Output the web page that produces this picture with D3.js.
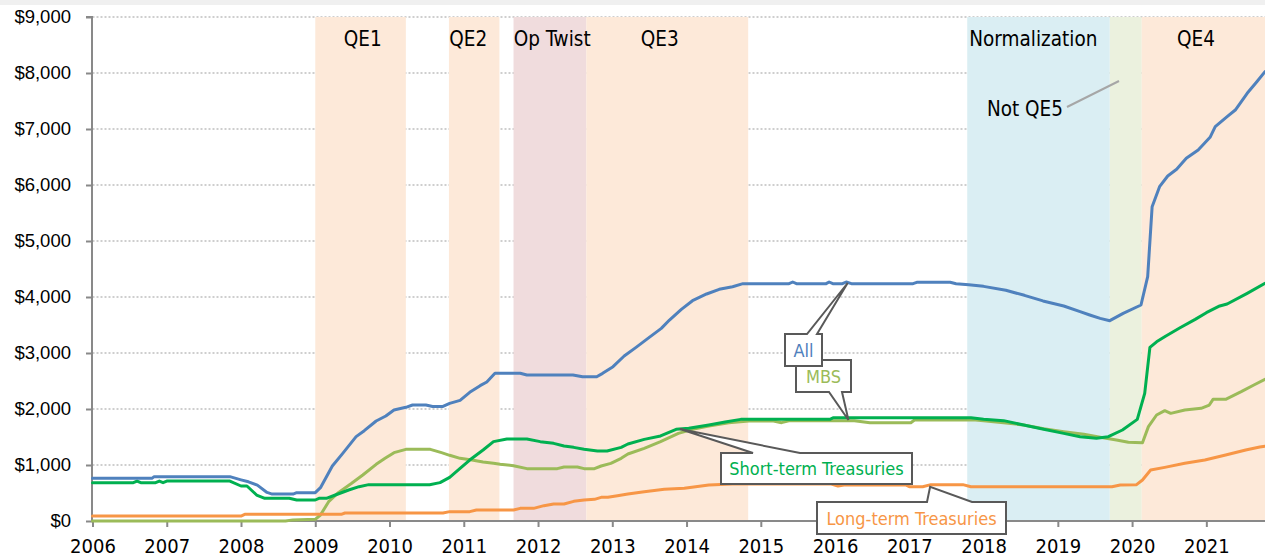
<!DOCTYPE html>
<html><head><meta charset="utf-8">
<script src="https://cdn.jsdelivr.net/npm/d3@7"></script>
<style>html,body{margin:0;padding:0;background:#fff;overflow:hidden} svg{display:block}</style>
</head><body><svg id="c" width="1265" height="559"></svg>
<script>
// ---------- DATA ----------
const xTickYears = d3.range(2006, 2022);
const yTickValues = [0,1000,2000,3000,4000,5000,6000,7000,8000,9000];

const bandNames  = ["QE1","QE2","Op Twist","QE3","Normalization","Not QE5","QE4"];
const bandStarts = [2009.0, 2010.80, 2011.67, 2012.65, 2017.78, 2019.70, 2020.13];
const bandEnds   = [2010.22, 2011.48, 2012.65, 2014.83, 2019.70, 2020.13, 2021.79];
const bandLabelYears = [2009.64, 2011.06, 2012.19, 2013.64, 2018.67, null, 2020.86];

const allYears = [2006.0,2006.8,2006.83,2007.85,2008.0,2008.1,2008.22,2008.35,2008.42,2008.7,2008.75,2009.0,2009.07,2009.23,2009.37,2009.55,2009.66,2009.82,2009.95,2010.06,2010.22,2010.31,2010.49,2010.58,2010.72,2010.81,2010.95,2011.08,2011.22,2011.31,2011.42,2011.76,2011.85,2012.47,2012.60,2012.79,2012.87,2013.01,2013.16,2013.32,2013.48,2013.66,2013.77,2013.93,2014.08,2014.27,2014.44,2014.62,2014.76,2015.38,2015.43,2015.48,2015.88,2015.92,2015.97,2016.10,2016.15,2016.22,2017.05,2017.10,2017.55,2017.63,2017.80,2018.0,2018.3,2018.55,2018.8,2019.08,2019.3,2019.43,2019.57,2019.70,2019.88,2020.12,2020.21,2020.27,2020.37,2020.48,2020.60,2020.73,2020.89,2021.05,2021.12,2021.28,2021.39,2021.55,2021.68,2021.79];
const allValues = [762,762,792,792,735,700,640,510,480,480,506,506,595,982,1208,1506,1613,1786,1875,1982,2030,2071,2071,2045,2045,2101,2155,2298,2417,2482,2637,2637,2607,2607,2577,2577,2637,2756,2946,3101,3262,3440,3589,3780,3934,4054,4137,4184,4238,4238,4268,4238,4238,4268,4238,4238,4268,4238,4238,4262,4262,4238,4220,4190,4120,4030,3930,3840,3738,3679,3619,3577,3708,3857,4363,5613,5970,6161,6280,6476,6625,6851,7041,7220,7339,7637,7845,8023];

const shortYears = [2006.0,2006.55,2006.6,2006.65,2006.85,2006.9,2006.95,2007.0,2007.85,2008.0,2008.08,2008.21,2008.32,2008.65,2008.75,2009.0,2009.05,2009.15,2009.27,2009.45,2009.59,2009.72,2010.54,2010.68,2010.81,2010.95,2011.08,2011.17,2011.26,2011.40,2011.58,2011.85,2012.03,2012.21,2012.35,2012.48,2012.62,2012.80,2012.93,2013.12,2013.21,2013.43,2013.65,2013.86,2014.03,2014.30,2014.52,2014.73,2015.93,2015.98,2017.83,2018.0,2018.27,2018.54,2018.81,2019.08,2019.30,2019.52,2019.68,2019.87,2020.07,2020.17,2020.24,2020.33,2020.45,2020.64,2020.85,2021.0,2021.18,2021.28,2021.55,2021.79];
const shortValues = [685,685,714,685,685,714,685,714,714,625,625,464,405,405,375,375,405,405,464,554,613,649,649,685,780,940,1089,1179,1268,1417,1464,1464,1417,1387,1339,1315,1280,1250,1250,1315,1375,1458,1518,1637,1655,1714,1768,1815,1815,1845,1845,1815,1792,1714,1637,1565,1506,1476,1506,1625,1815,2280,3100,3200,3300,3446,3600,3720,3840,3875,4066,4244];

const mbsYears = [2006.0,2008.6,2008.7,2009.0,2009.07,2009.18,2009.31,2009.49,2009.64,2009.82,2009.94,2010.06,2010.22,2010.55,2010.70,2010.81,2010.95,2011.11,2011.26,2011.40,2011.49,2011.67,2011.85,2012.26,2012.35,2012.53,2012.62,2012.76,2012.85,2012.98,2013.12,2013.21,2013.43,2013.65,2013.89,2014.08,2014.30,2014.57,2014.84,2015.17,2015.28,2015.39,2016.26,2016.47,2017.02,2017.07,2017.89,2018.0,2018.27,2018.54,2018.81,2019.08,2019.35,2019.57,2019.79,2019.95,2020.14,2020.22,2020.33,2020.44,2020.52,2020.71,2020.93,2021.04,2021.09,2021.26,2021.47,2021.64,2021.79];
const mbsValues = [0,0,20,30,107,345,506,673,821,1012,1119,1220,1280,1280,1220,1173,1119,1089,1054,1030,1012,988,935,935,964,964,935,935,982,1030,1119,1196,1298,1417,1565,1637,1696,1756,1786,1786,1756,1792,1792,1756,1756,1804,1804,1792,1756,1714,1649,1595,1548,1494,1446,1405,1399,1685,1893,1970,1922,1982,2012,2071,2173,2173,2310,2429,2530];

const longYears = [2006.0,2008.0,2008.05,2009.35,2009.40,2010.72,2010.81,2011.08,2011.17,2011.67,2011.76,2011.94,2012.08,2012.21,2012.35,2012.48,2012.62,2012.76,2012.85,2012.94,2013.07,2013.21,2013.43,2013.70,2013.97,2014.30,2014.62,2015.95,2016.04,2016.12,2016.95,2017.0,2017.18,2017.29,2017.72,2017.83,2019.73,2019.84,2020.06,2020.14,2020.25,2020.44,2020.71,2020.98,2021.26,2021.53,2021.72,2021.79];
const longValues = [89,89,119,119,143,143,167,167,196,196,226,226,274,304,304,351,375,387,423,423,452,482,524,565,583,643,661,661,625,643,643,613,613,649,649,613,613,643,649,732,911,958,1030,1089,1179,1268,1320,1335];

const seriesNames  = ["MBS","Short-term Treasuries","Long-term Treasuries","All"];
const seriesColors = ["#9bbb59","#00b050","#f79646","#4f81bd"];

// callouts: label, tip (year,value), box centre (year,value)
const calloutLabels    = ["Short-term Treasuries","Long-term Treasuries","MBS","All"];
const calloutTipYears  = [2013.91, 2017.28, 2016.18, 2016.17];
const calloutTipValues = [1643, 612, 1804, 4250];
const calloutBoxYears  = [2015.75, 2017.03, 2015.85, 2015.57];
const calloutBoxValues = [946, 54, 2589, 3054];

// ---------- LAYOUT ----------
const W = 1265, H = 559;
const x = d3.scaleLinear().domain([2006, 2021.79]).range([92.5, 1265]);
const y = d3.scaleLinear().domain([0, 9000]).range([521, 17]);

const svg = d3.select("#c");
const narrow = "'DejaVu Sans Condensed','Liberation Sans Narrow',sans-serif";

svg.append("rect").attr("x",0).attr("y",0).attr("width",W).attr("height",5).attr("fill","#f0f0f0");

// gridlines
svg.append("g").selectAll("line").data(yTickValues.filter(v=>v>0)).join("line")
  .attr("x1", x(2006)).attr("x2", W).attr("y1", d=>y(d)).attr("y2", d=>y(d))
  .attr("stroke","#bfbfbf").attr("stroke-width",1.5).attr("stroke-dasharray","2,2");

// bands
const bandColors = ["#fde9d9","#fde9d9","#f0dcdd","#fde9d9","#daeef3","#ebf1de","#fde9d9"];
const bands = bandNames.map((n,i)=>({n, s:bandStarts[i], e:bandEnds[i], ly:bandLabelYears[i], c:bandColors[i]}));
svg.append("g").selectAll("rect").data(bands).join("rect")
  .attr("x", d=>x(d.s)).attr("width", d=>x(d.e)-x(d.s))
  .attr("y", y(9000)).attr("height", y(0)-y(9000)).attr("fill", d=>d.c);

svg.append("g").selectAll("text").data(bands.filter(d=>d.ly!==null)).join("text")
  .attr("x", d=>x(d.ly)).attr("y", 45.5).attr("text-anchor","middle")
  .attr("font-family", narrow).attr("font-size", 20.5).attr("fill","#000").text(d=>d.n);

// Not QE5 label + leader
svg.append("text").attr("x", 1063).attr("y", 115.5).attr("text-anchor","end")
  .attr("font-family", narrow).attr("font-size", 20.5).attr("fill","#000").text("Not QE5");
svg.append("line").attr("x1",1067).attr("y1",107).attr("x2",1119).attr("y2",81)
  .attr("stroke","#a6a6a6").attr("stroke-width",2);

// axes
const yAxis = svg.append("g").attr("transform", `translate(${x(2006)-0.5},0)`)
  .call(d3.axisLeft(y).tickValues(yTickValues).tickSize(6).tickPadding(15)
    .tickFormat(d=>"$"+d3.format(",")(d)));
yAxis.select(".domain").attr("stroke","#898989").attr("stroke-width",2).attr("d", `M-6,${y(9000)}H0V${y(0)}`);
yAxis.selectAll(".tick line").attr("stroke","#898989").attr("stroke-width",2);
yAxis.selectAll(".tick text").attr("font-family","'Liberation Sans',Arial,sans-serif").attr("font-size",18.5).attr("fill","#000");

const xAxis = svg.append("g").attr("transform", `translate(0,${y(0)})`)
  .call(d3.axisBottom(x).tickValues(xTickYears).tickSize(6).tickPadding(12).tickFormat(d3.format("d")));
xAxis.select(".domain").attr("stroke","#898989").attr("stroke-width",2).attr("d", `M${x(2006)-1.5},0H${W}`);
xAxis.selectAll(".tick line").attr("stroke","#898989").attr("stroke-width",2);
xAxis.selectAll(".tick text").attr("font-family", narrow).attr("font-size",20).attr("fill","#000");

// lines
const seriesData = [
  mbsYears.map((t,i)=>[t, mbsValues[i]]),
  shortYears.map((t,i)=>[t, shortValues[i]]),
  longYears.map((t,i)=>[t, longValues[i]]),
  allYears.map((t,i)=>[t, allValues[i]])
];
const line = d3.line().x(d=>x(d[0])).y(d=>y(d[1]));
svg.append("g").selectAll("path").data(seriesData).join("path")
  .attr("d", line).attr("fill","none")
  .attr("stroke", (d,i)=>seriesColors[i]).attr("stroke-width",3)
  .attr("stroke-linejoin","round").attr("stroke-linecap","round");

// callouts
const boxW = [191, 189, 55, 37], boxH = [31, 32, 32, 32];
const baseOff = [[32,79],[110,155],[33,46],[22,32]];
const side = ["top","top","bottom","top"];
const colorOf = n => seriesColors[seriesNames.indexOf(n)];
const cg = svg.append("g");
calloutLabels.forEach((lab,i)=>{
  const cx = x(calloutBoxYears[i]), cy = y(calloutBoxValues[i]);
  const x0 = Math.round(cx - boxW[i]/2), x1 = x0 + boxW[i];
  const y0 = Math.round(cy - boxH[i]/2), y1 = y0 + boxH[i];
  const tx = x(calloutTipYears[i]), ty = y(calloutTipValues[i]);
  const b1 = x0 + baseOff[i][0], b2 = x0 + baseOff[i][1];
  const p = d3.path();
  if (side[i] === "top") {
    p.moveTo(x0,y0); p.lineTo(b1,y0); p.lineTo(tx,ty); p.lineTo(b2,y0); p.lineTo(x1,y0);
    p.lineTo(x1,y1); p.lineTo(x0,y1); p.closePath();
  } else {
    p.moveTo(x0,y0); p.lineTo(x1,y0); p.lineTo(x1,y1); p.lineTo(b2,y1); p.lineTo(tx,ty);
    p.lineTo(b1,y1); p.lineTo(x0,y1); p.closePath();
  }
  cg.append("path").attr("d", p.toString()).attr("fill","#fff").attr("stroke","#595959").attr("stroke-width",2)
    .attr("stroke-linejoin","miter");
  cg.append("text").attr("x", (x0+x1)/2).attr("y", (y0+y1)/2 + 6.5).attr("text-anchor","middle")
    .attr("font-family", narrow).attr("font-size", 18).attr("fill", colorOf(lab)).text(lab);
});
</script></body></html>
